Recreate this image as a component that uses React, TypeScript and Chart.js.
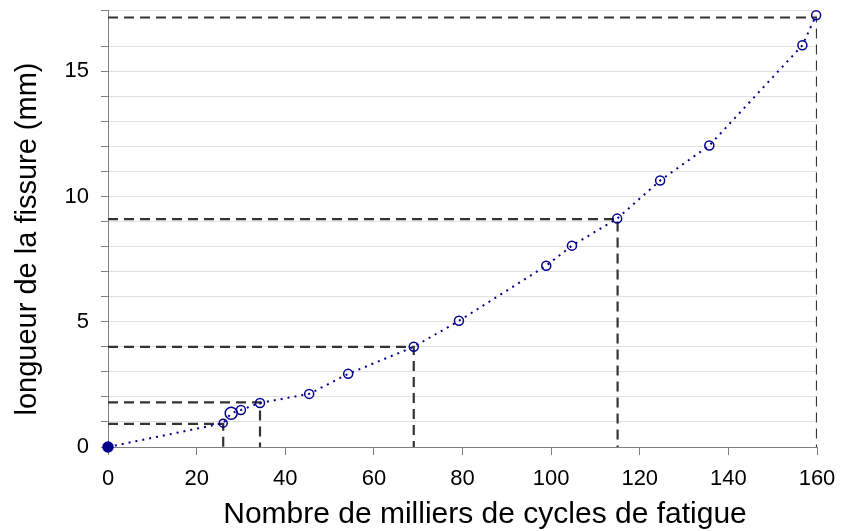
import React, { useEffect, useRef } from "react";
import { Chart, registerables } from "chart.js";

Chart.register(...registerables);

const cyclesK = [0, 26, 27.8, 30, 34.3, 45.4, 54.2, 69, 79.2, 98.9, 104.7, 114.9, 124.6, 135.7, 156.7, 159.8];
const crackMm = [0, 0.95, 1.35, 1.48, 1.76, 2.12, 2.92, 4.0, 5.04, 7.24, 8.04, 9.12, 10.64, 12.04, 16.04, 17.24];
const pointSizes = [5, 4, 6, 4.5, 4.5, 4.5, 4.5, 4.5, 4.5, 4.5, 4.5, 4.5, 4.5, 4.5, 4.5, 4.5];

const guideX = [26, 34.3, 69, 115, 160];
const guideY = [0.92, 1.78, 4.0, 9.1, 17.15];

const xTicks = [0, 20, 40, 60, 80, 100, 120, 140, 160];
const yLabelled = [0, 5, 10, 15];

const xTitle = "Nombre de milliers de cycles de fatigue";
const yTitle = "longueur de la fissure (mm)";

const FONT = "'Liberation Sans', Arial, sans-serif";

const titlesPlugin = {
  id: "axisTitles",
  afterDraw(chart: any) {
    const ctx = chart.ctx;
    ctx.save();
    ctx.fillStyle = "#000";
    ctx.font = `30px ${FONT}`;
    ctx.textAlign = "center";
    ctx.textBaseline = "middle";
    ctx.fillText(xTitle, 485, 515);
    ctx.translate(28, 239);
    ctx.rotate(-Math.PI / 2);
    ctx.font = `29px ${FONT}`;
    ctx.fillText(yTitle, 0, 0);
    ctx.restore();
  },
};

export default function App() {
  const ref = useRef<HTMLCanvasElement | null>(null);

  useEffect(() => {
    if (!ref.current) return;
    const guides = guideX.map((gx, i) => ({
      type: "line" as const,
      data: [
        { x: 0, y: guideY[i] },
        { x: gx, y: guideY[i] },
        { x: gx, y: 0 },
      ],
      borderColor: "#333333",
      borderWidth: 2.2,
      borderDash: [10, 6],
      pointRadius: 0,
      fill: false,
      tension: 0,
      order: 2,
    }));
    const chart = new Chart(ref.current, {
      type: "line",
      plugins: [titlesPlugin],
      data: {
        datasets: [
          {
            data: cyclesK.map((x, i) => ({ x, y: crackMm[i] })),
            borderColor: "#00008b",
            borderWidth: 2,
            borderDash: [2, 5],
            pointRadius: pointSizes,
            pointBorderWidth: 1.5,
            pointBorderColor: "#00008b",
            pointBackgroundColor: cyclesK.map((_, i) => (i === 0 ? "#00008b" : "rgba(255,255,255,0)")),
            tension: 0,
            fill: false,
            clip: false,
            order: 1,
          } as any,
          ...guides,
        ],
      },
      options: {
        animation: false,
        responsive: false,
        events: [],
        layout: { padding: { left: 0, right: 32, top: 10, bottom: 0 } },
        plugins: { legend: { display: false }, tooltip: { enabled: false } },
        scales: {
          x: {
            type: "linear",
            min: 0,
            max: 160,
            afterBuildTicks: (axis: any) => {
              axis.ticks = xTicks.map((v) => ({ value: v }));
            },
            afterFit: (axis: any) => {
              axis.height = 84;
              axis.paddingLeft = 0;
              axis.paddingRight = 0;
            },
            border: { color: "#808080", width: 1 },
            grid: { drawOnChartArea: false, tickLength: 8, color: "#808080" },
            ticks: {
              color: "#000",
              font: { family: FONT, size: 22 },
              padding: 11,
              maxRotation: 0,
              autoSkip: false,
            },
            title: { display: false },
          },
          y: {
            type: "linear",
            min: 0,
            max: 17.45,
            afterFit: (axis: any) => {
              axis.width = 108;
              axis.paddingTop = 0;
              axis.paddingBottom = 0;
            },
            border: { color: "#808080", width: 1 },
            grid: {
              color: "#e0e0e0",
              tickColor: "#808080",
              tickLength: 7,
            },
            ticks: {
              stepSize: 1,
              color: "#000",
              font: { family: FONT, size: 22 },
              padding: 12,
              callback: (v: any) => (yLabelled.includes(Number(v)) ? String(v) : ""),
              autoSkip: false,
            },
            title: { display: false },
          },
        },
      },
    });
    return () => chart.destroy();
  }, []);

  return (
    <div style={{ position: "absolute", left: 0, top: 0, width: 849, height: 531, background: "#fff" }}>
      <canvas ref={ref} width={849} height={531} style={{ width: 849, height: 531 }} />
    </div>
  );
}
